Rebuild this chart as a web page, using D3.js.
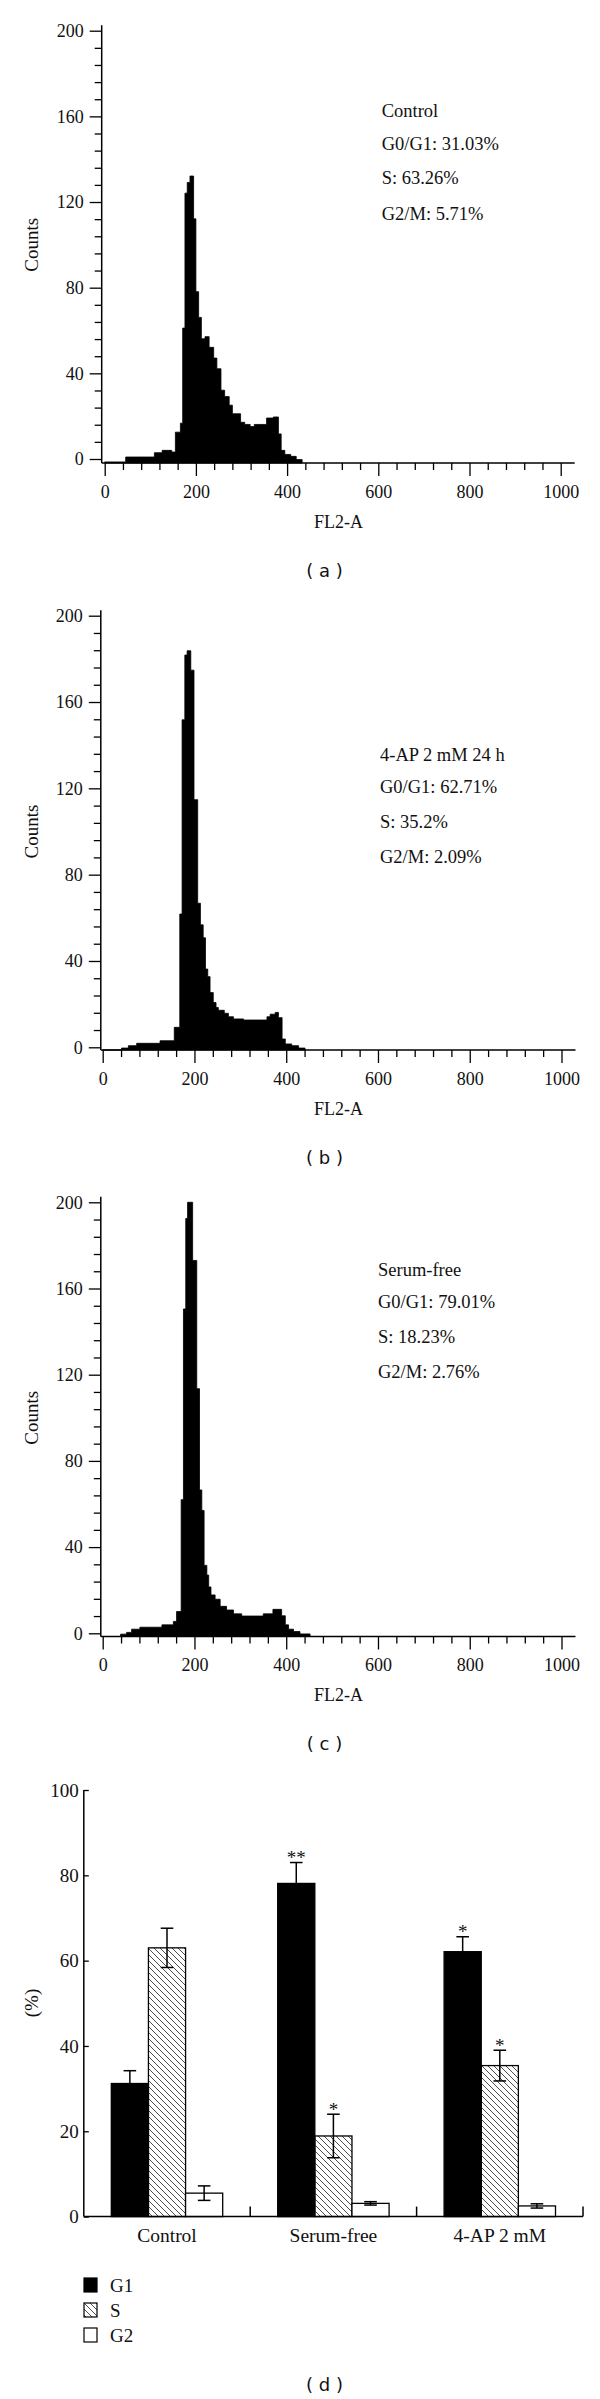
<!DOCTYPE html>
<html>
<head>
<meta charset="utf-8">
<title>Cell cycle distribution</title>
<script src="https://d3js.org/d3.v7.min.js"></script>
<style>
  body { margin: 0; background: #fff; }
  svg text { font-family: "Liberation Serif", "Times New Roman", serif; fill: #111; }
  .tag { font-family: "DejaVu Sans", sans-serif; font-size: 18px; white-space: pre; }
  .tick line { stroke: #000; stroke-width: 1.3; }
</style>
</head>
<body>
<svg width="600" height="2399"></svg>

<script>

// FL2-A histograms, each step is [channel where the step starts, counts]
var controlSteps = [[0,0.5],[46,2.8],[109,4.8],[126,5.9],[147,5.1],[155,14.4],[166,18.6],[171,63],[176,126],[181,131],
  [187,134],[195,114],[200,80],[206,68],[212,58],[220,59],[229,54],[239,49],[246,44],[255,34],[263,31],[273,27],
  [280,23],[298,19],[307,18],[319,17],[328,18],[355,21],[370,21.5],[381,13.6],[387,5.9],[395,4],[408,3.1],[420,1.6],[433,0]];

var apSteps = [[0,0],[41,0.9],[56,2],[74,3.1],[125,4.3],[156,10.5],[168,63],[173,153],[179,183],[184,185],[192,176],
  [199,116],[207,68],[213,58],[219,52],[224,37.5],[229,34],[234,26.6],[241,22],[247,19.7],[252,18.4],[265,17],
  [274,15.4],[285,14.4],[307,13.9],[358,15.4],[365,16.6],[376,17.4],[383,15],[391,5.1],[398,2.8],[412,2],[427,0.9],[441,0]];

var serumSteps = [[0,0],[39,1.1],[52,1.9],[63,3.4],[81,4.3],[129,5.4],[154,7],[161,11.6],[171,63.5],[176,152],[181,194],
  [185,201.5],[196,174.5],[205,115],[211,68],[216,58.5],[221,33],[227,28.5],[231,23],[236,19.3],[245,17.3],[256,14],
  [270,12.3],[285,10.5],[303,9.5],[350,10.5],[371,12.6],[390,9.6],[398,5.4],[405,3.4],[416,2.3],[430,1.2],[452,0]];

var controlNotes = ["Control", "G0/G1: 31.03%", "S: 63.26%", "G2/M: 5.71%"];
var apNotes = ["4-AP 2 mM 24 h", "G0/G1: 62.71%", "S: 35.2%", "G2/M: 2.09%"];
var serumNotes = ["Serum-free", "G0/G1: 79.01%", "S: 18.23%", "G2/M: 2.76%"];

var fl2Ticks = [0, 200, 400, 600, 800, 1000];
var countTicks = [0, 40, 80, 120, 160, 200];

// bar chart (d)
var groups = ["Control", "Serum-free", "4-AP 2 mM"];
var phases = ["G1", "S", "G2"];
var g1Mean = [31.2, 78.1, 62.1], g1Err = [3.0, 4.9, 3.5];
var sMean = [63.0, 18.9, 35.4], sErr = [4.6, 5.1, 3.6];
var g2Mean = [5.5, 3.1, 2.5], g2Err = [1.7, 0.4, 0.5];
var g1Marks = ["", "**", "*"], sMarks = ["", "*", "*"], g2Marks = ["", "", ""];
var pctTicks = [0, 20, 40, 60, 80, 100];

var svg = d3.select("svg");

var defs = svg.append("defs");
defs.append("pattern")
    .attr("id", "hatch")
    .attr("patternUnits", "userSpaceOnUse")
    .attr("width", 6).attr("height", 6)
  .append("path")
    .attr("d", "M-1,-1 L7,7 M-1,5 L1,7 M5,-1 L7,1")
    .attr("stroke", "#3a3a3a")
    .attr("stroke-width", 0.9);

// panel layout (pixels)
var histPanels = [
  {steps: controlSteps, notes: controlNotes, tag: "( a )", top: 30.7, zero: 459, axisY: 463, left: 104.7, right: 560.7, yAxisX: 101.7, noteX: 381.7, noteY: 117.3},
  {steps: apSteps, notes: apNotes, tag: "( b )", top: 615.7, zero: 1047.3, axisY: 1050, left: 102.7, right: 561.5, yAxisX: 100.8, noteX: 380, noteY: 760.7},
  {steps: serumSteps, notes: serumNotes, tag: "( c )", top: 1202.3, zero: 1633.3, axisY: 1636.5, left: 102.7, right: 561.5, yAxisX: 100.8, noteX: 378, noteY: 1275.7}
];
var noteGaps = [0, 32.5, 67, 102.5];

histPanels.forEach(function(p) {
  var g = svg.append("g");

  var x = d3.scaleLinear().domain([0, 1000]).range([p.left, p.right]);
  var y = d3.scaleLinear().domain([0, 200]).range([p.zero, p.top]);
  // histogram counts sit on the axis line, which is drawn a little below the 0 tick
  var yHist = d3.scaleLinear().domain([0, 200]).range([p.axisY, p.top + (p.axisY - p.zero)]);

  var area = d3.area()
    .curve(d3.curveStepAfter)
    .x(function(d) { return x(d[0]); })
    .y0(p.axisY)
    .y1(function(d) { return yHist(d[1]); });

  g.append("path")
    .datum(p.steps)
    .attr("d", area)
    .attr("fill", "#000")
    .attr("stroke", "#000")
    .attr("stroke-width", 0.8);

  // y axis
  var yMajor = g.append("g")
    .attr("transform", "translate(" + p.yAxisX + ",0)")
    .call(d3.axisLeft(y).tickValues(countTicks).tickSize(12).tickPadding(6).tickFormat(d3.format("d")));
  var yMinor = g.append("g")
    .attr("transform", "translate(" + p.yAxisX + ",0)")
    .call(d3.axisLeft(y).tickValues(d3.range(0, 201, 8).filter(function(v) { return v % 40; }))
      .tickSize(7).tickFormat(""));

  // x axis
  var xMajor = g.append("g")
    .attr("transform", "translate(0," + p.axisY + ")")
    .call(d3.axisBottom(x).tickValues(fl2Ticks).tickSize(13).tickPadding(9).tickFormat(d3.format("d")));
  var xMinor = g.append("g")
    .attr("transform", "translate(0," + p.axisY + ")")
    .call(d3.axisBottom(x).tickValues(d3.range(0, 1001, 40).filter(function(v) { return v % 200; }))
      .tickSize(7).tickFormat(""));

  [yMajor, yMinor, xMajor, xMinor].forEach(function(a) {
    a.select(".domain").remove();
    a.selectAll("text").style("font-size", "18px");
  });

  g.append("line")
    .attr("x1", p.yAxisX).attr("x2", p.yAxisX)
    .attr("y1", p.top - 5.5).attr("y2", p.axisY)
    .attr("stroke", "#000").attr("stroke-width", 1.5);
  g.append("line")
    .attr("x1", p.yAxisX).attr("x2", p.right + 14)
    .attr("y1", p.axisY).attr("y2", p.axisY)
    .attr("stroke", "#000").attr("stroke-width", 1.5);

  g.append("text")
    .attr("transform", "translate(31," + ((p.top + p.zero) / 2) + ") rotate(-90)")
    .attr("text-anchor", "middle")
    .attr("dy", "0.35em")
    .style("font-size", "19px")
    .text("Counts");

  g.append("text")
    .attr("x", 338.5)
    .attr("y", p.axisY + 64.5)
    .attr("text-anchor", "middle")
    .style("font-size", "18px")
    .text("FL2-A");

  g.selectAll(".note")
    .data(p.notes)
    .enter().append("text")
    .attr("class", "note")
    .attr("x", p.noteX)
    .attr("y", function(d, i) { return p.noteY + noteGaps[i]; })
    .style("font-size", "18.5px")
    .text(function(d) { return d; });

  g.append("text")
    .attr("class", "tag")
    .attr("x", 324.5)
    .attr("y", p.axisY + 113.5)
    .attr("text-anchor", "middle")
    .text(p.tag);
});

// ---- (d) grouped bars ----
var means = {G1: g1Mean, S: sMean, G2: g2Mean};
var errs = {G1: g1Err, S: sErr, G2: g2Err};
var marks = {G1: g1Marks, S: sMarks, G2: g2Marks};
var fills = {G1: "#000", S: "url(#hatch)", G2: "#fff"};

var bars = [];
phases.forEach(function(ph) {
  groups.forEach(function(gr, i) {
    bars.push({group: gr, phase: ph, value: means[ph][i], err: errs[ph][i], mark: marks[ph][i]});
  });
});

var xg = d3.scaleBand().domain(groups).range([83.8, 583]);
var xp = d3.scaleBand().domain(phases).range([27.5, xg.bandwidth() - 27.5]);
var yp = d3.scaleLinear().domain([0, 100]).range([2216.6, 1790]);

var bg = svg.append("g");

bg.selectAll(".bar")
  .data(bars)
  .enter().append("rect")
  .attr("class", "bar")
  .attr("x", function(d) { return xg(d.group) + xp(d.phase); })
  .attr("y", function(d) { return yp(d.value); })
  .attr("width", xp.bandwidth())
  .attr("height", function(d) { return yp(0) - yp(d.value); })
  .attr("fill", function(d) { return fills[d.phase]; })
  .attr("stroke", "#000")
  .attr("stroke-width", 1.3);

var cx = function(d) { return xg(d.group) + xp(d.phase) + xp.bandwidth() / 2; };
var capW = 6.3;

var eb = bg.selectAll(".err")
  .data(bars)
  .enter().append("g")
  .attr("class", "err")
  .attr("stroke", "#000")
  .attr("stroke-width", 1.5);
eb.append("line")
  .attr("x1", cx).attr("x2", cx)
  .attr("y1", function(d) { return yp(d.value - d.err); })
  .attr("y2", function(d) { return yp(d.value + d.err); });
eb.append("line")
  .attr("x1", function(d) { return cx(d) - capW; }).attr("x2", function(d) { return cx(d) + capW; })
  .attr("y1", function(d) { return yp(d.value + d.err); })
  .attr("y2", function(d) { return yp(d.value + d.err); });
eb.append("line")
  .attr("x1", function(d) { return cx(d) - capW; }).attr("x2", function(d) { return cx(d) + capW; })
  .attr("y1", function(d) { return yp(d.value - d.err); })
  .attr("y2", function(d) { return yp(d.value - d.err); });

bg.selectAll(".mark")
  .data(bars.filter(function(d) { return d.mark; }))
  .enter().append("text")
  .attr("class", "mark")
  .attr("x", cx)
  .attr("y", function(d) { return yp(d.value + d.err) + 1.5; })
  .attr("text-anchor", "middle")
  .style("font-size", "19px")
  .text(function(d) { return d.mark; });

// axes
var yAx = bg.append("g")
  .attr("transform", "translate(83.8,0)")
  .call(d3.axisLeft(yp).tickValues(pctTicks).tickSizeInner(-5).tickSizeOuter(0).tickPadding(5));
yAx.select(".domain").remove();
yAx.selectAll("text").style("font-size", "19px");

var xAx = bg.append("g")
  .attr("transform", "translate(0," + yp(0) + ")")
  .call(d3.axisBottom(xg).tickSize(0).tickPadding(12));
xAx.select(".domain").remove();
xAx.selectAll("text").style("font-size", "19.5px");

bg.append("line")
  .attr("x1", 83.8).attr("x2", 83.8)
  .attr("y1", yp(100)).attr("y2", yp(0))
  .attr("stroke", "#000").attr("stroke-width", 1.5);
bg.append("line")
  .attr("x1", 83.8).attr("x2", 583)
  .attr("y1", yp(0)).attr("y2", yp(0))
  .attr("stroke", "#000").attr("stroke-width", 1.5);

// group separators
bg.selectAll(".sep")
  .data(groups)
  .enter().append("line")
  .attr("class", "sep")
  .attr("x1", function(d) { return xg(d) + xg.bandwidth(); })
  .attr("x2", function(d) { return xg(d) + xg.bandwidth(); })
  .attr("y1", yp(0)).attr("y2", yp(0) - 10)
  .attr("stroke", "#000").attr("stroke-width", 1.5);

bg.append("text")
  .attr("transform", "translate(31,2003) rotate(-90)")
  .attr("text-anchor", "middle")
  .attr("dy", "0.35em")
  .style("font-size", "19px")
  .text("(%)");

// legend
var leg = bg.selectAll(".leg")
  .data(phases)
  .enter().append("g")
  .attr("class", "leg")
  .attr("transform", function(d, i) { return "translate(84," + (2278 + i * 25) + ")"; });
leg.append("rect")
  .attr("width", 13).attr("height", 14)
  .attr("fill", function(d) { return fills[d]; })
  .attr("stroke", "#000")
  .attr("stroke-width", 1.2);
leg.append("text")
  .attr("x", 26)
  .attr("y", 13.5)
  .style("font-size", "19px")
  .text(function(d) { return d; });

bg.append("text")
  .attr("class", "tag")
  .attr("x", 324.5)
  .attr("y", 2391)
  .attr("text-anchor", "middle")
  .text("( d )");

</script>
</body>
</html>
